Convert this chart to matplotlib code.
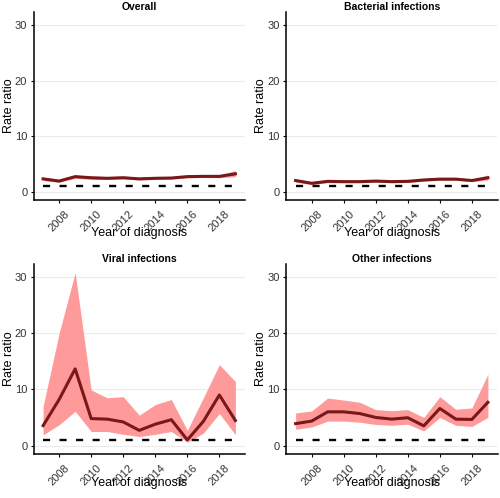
import numpy as np
import matplotlib
matplotlib.use('Agg')
import matplotlib.pyplot as plt
from matplotlib.transforms import ScaledTranslation

plt.rcParams['font.family'] = ['Liberation Sans', 'DejaVu Sans']

years = np.arange(2007, 2020)
ref_line = [1] * len(years)

# rate ratio estimates and 95% CI
overall_rr = [2.3, 1.9, 2.7, 2.5, 2.4, 2.5, 2.3, 2.4, 2.45, 2.7, 2.75, 2.75, 3.2]
overall_lo = [2.0, 1.7, 2.4, 2.2, 2.2, 2.3, 2.1, 2.2, 2.25, 2.5, 2.55, 2.5, 2.7]
overall_hi = [2.6, 2.2, 3.0, 2.8, 2.7, 2.8, 2.6, 2.7, 2.7, 3.0, 3.0, 3.0, 3.8]

bact_rr = [2.0, 1.5, 1.85, 1.8, 1.8, 1.9, 1.8, 1.85, 2.1, 2.25, 2.25, 2.0, 2.5]
bact_lo = [1.7, 1.3, 1.6, 1.6, 1.6, 1.7, 1.6, 1.65, 1.9, 2.05, 2.05, 1.8, 2.1]
bact_hi = [2.3, 1.8, 2.1, 2.0, 2.0, 2.1, 2.0, 2.05, 2.35, 2.5, 2.5, 2.25, 3.0]

viral_rr = [3.55, 8.2, 13.65, 4.8, 4.7, 4.2, 2.7, 3.8, 4.6, 1.0, 4.3, 9.0, 4.45]
viral_lo = [1.9, 3.7, 6.1, 2.5, 2.5, 2.0, 1.6, 2.0, 2.5, 0.6, 2.2, 5.7, 1.9]
viral_hi = [7.0, 20.0, 30.8, 9.9, 8.5, 8.7, 5.4, 7.3, 8.2, 2.7, 8.5, 14.4, 11.4]

other_rr = [3.9, 4.35, 6.0, 6.0, 5.7, 5.0, 4.7, 4.95, 3.5, 6.6, 4.7, 4.65, 7.7]
other_lo = [2.9, 3.3, 4.35, 4.35, 4.15, 3.75, 3.6, 3.8, 2.6, 5.0, 3.6, 3.4, 5.0]
other_hi = [5.8, 6.15, 8.45, 8.1, 7.7, 6.4, 6.2, 6.4, 5.0, 8.7, 6.45, 6.7, 12.7]

titles = ['Overall', 'Bacterial infections', 'Viral infections', 'Other infections']
panels = [(overall_rr, overall_lo, overall_hi),
          (bact_rr, bact_lo, bact_hi),
          (viral_rr, viral_lo, viral_hi),
          (other_rr, other_lo, other_hi)]

# axes boxes in figure fractions (left, bottom, width, height)
boxes = [(0.067, 0.598, 0.423, 0.378),
         (0.572, 0.598, 0.423, 0.378),
         (0.067, 0.088, 0.423, 0.382),
         (0.572, 0.088, 0.423, 0.382)]
xlabel_y = [-0.14, -0.14, -0.12, -0.12]

fig = plt.figure(figsize=(5, 4.98), dpi=100)
shift = ScaledTranslation(-4 / 100, 0, fig.dpi_scale_trans)

for title, (rr, lo, hi), box, ly in zip(titles, panels, boxes, xlabel_y):
    ax = fig.add_axes(box)
    ax.fill_between(years, lo, hi, color='#FF9A9A', linewidth=0, zorder=2)
    ax.plot(years, rr, color='#7A1719', linewidth=2.2, zorder=3)
    ax.plot(years, ref_line, color='black', linestyle=(0, (3, 4)),
            linewidth=1.7, zorder=4)

    ax.set_xlim(2006.4, 2019.6)
    ax.set_ylim(-1.54, 32.34)
    ax.set_yticks([0, 10, 20, 30])
    ax.set_xticks(np.arange(2008, 2020, 2))
    ax.set_xticklabels([str(y) for y in range(2008, 2020, 2)], rotation=45,
                       ha='center', va='top')
    for lab in ax.get_xticklabels():
        lab.set_transform(lab.get_transform() + shift)
    ax.grid(axis='y', color='#EBEBEB', linewidth=0.8, zorder=0)
    ax.set_axisbelow(True)

    for s in ['top', 'right']:
        ax.spines[s].set_visible(False)
    for s in ['left', 'bottom']:
        ax.spines[s].set_linewidth(1.1)
        ax.spines[s].set_color('black')
    ax.tick_params(axis='both', length=2.5, width=0.8, labelsize=8,
                   colors='black', labelcolor='#333333', pad=2)
    ax.tick_params(axis='x', pad=3.5)

    ax.set_title(title, fontsize=7.5, fontweight='bold', pad=1.5)
    ax.set_ylabel('Rate ratio', fontsize=9, labelpad=0)
    ax.set_xlabel('Year of diagnosis', fontsize=9)
    ax.xaxis.set_label_coords(0.5, ly)

fig.savefig('out.png', dpi=100)
